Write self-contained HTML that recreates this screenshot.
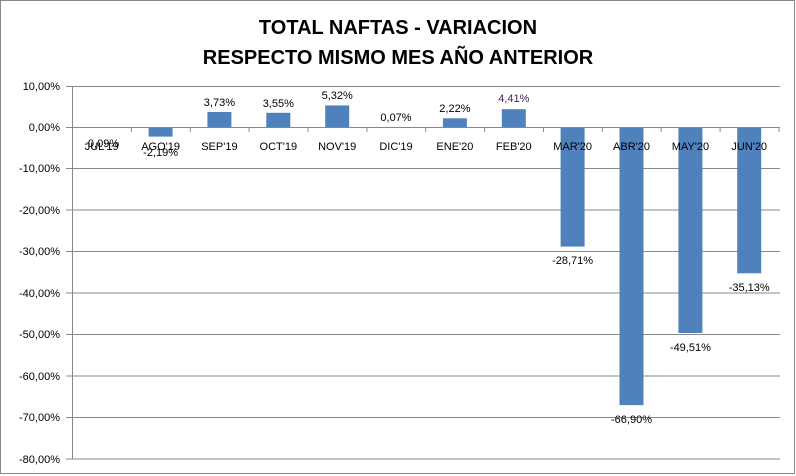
<!DOCTYPE html>
<html><head><meta charset="utf-8"><style>
html,body{margin:0;padding:0;background:#fff;}
svg{display:block;font-family:"Liberation Sans","DejaVu Sans",sans-serif;}
</style></head><body>
<svg width="796" height="476" viewBox="0 0 796 476" xmlns="http://www.w3.org/2000/svg">
<rect x="0.5" y="0.5" width="794" height="473" fill="#fff" stroke="#888"/>
<text x="398" y="34" text-anchor="middle" font-size="20" font-weight="bold">TOTAL NAFTAS - VARIACION</text>
<text x="398" y="64" text-anchor="middle" font-size="20" font-weight="bold">RESPECTO MISMO  MES AÑO ANTERIOR</text>
<g stroke="#888" stroke-width="1">
<line x1="66" y1="86.5" x2="780" y2="86.5"/>
<line x1="66" y1="168.5" x2="780" y2="168.5"/>
<line x1="66" y1="210" x2="780" y2="210"/>
<line x1="66" y1="251.5" x2="780" y2="251.5"/>
<line x1="66" y1="293" x2="780" y2="293"/>
<line x1="66" y1="334.5" x2="780" y2="334.5"/>
<line x1="66" y1="376" x2="780" y2="376"/>
<line x1="66" y1="417.5" x2="780" y2="417.5"/>
<line x1="66" y1="459" x2="780" y2="459"/>
<line x1="72.5" y1="86" x2="72.5" y2="459"/>
</g>
<g fill="#4F81BD">
<rect x="89.7" y="127.5" width="24" height="0.4"/>
<rect x="148.6" y="127.5" width="24" height="9.1"/>
<rect x="207.4" y="112" width="24" height="15.5"/>
<rect x="266.3" y="112.8" width="24" height="14.7"/>
<rect x="325.2" y="105.4" width="24" height="22.1"/>
<rect x="384.0" y="127.2" width="24" height="0.3"/>
<rect x="442.9" y="118.3" width="24" height="9.2"/>
<rect x="501.8" y="109.2" width="24" height="18.3"/>
<rect x="560.6" y="127.5" width="24" height="119.1"/>
<rect x="619.5" y="127.5" width="24" height="277.6"/>
<rect x="678.4" y="127.5" width="24" height="205.5"/>
<rect x="737.2" y="127.5" width="24" height="145.8"/>
</g>
<g stroke="#888"><line x1="66" y1="127.5" x2="780" y2="127.5"/>
<path d="M72.5 127v5M131.4 127v5M190.3 127v5M249.1 127v5M308 127v5M366.9 127v5M425.7 127v5M484.6 127v5M543.5 127v5M602.3 127v5M661.2 127v5M720.1 127v5M779 127v5"/></g>
<g font-size="11" text-anchor="end">
<text x="60" y="90">10,00%</text><text x="60" y="131">0,00%</text><text x="60" y="172">-10,00%</text>
<text x="60" y="214">-20,00%</text><text x="60" y="255">-30,00%</text><text x="60" y="297">-40,00%</text>
<text x="60" y="338">-50,00%</text><text x="60" y="380">-60,00%</text><text x="60" y="421">-70,00%</text><text x="60" y="463">-80,00%</text>
</g>
<g font-size="11" text-anchor="middle">
<text x="101.7" y="150">JUL'19</text><text x="160.6" y="150">AGO'19</text><text x="219.4" y="150">SEP'19</text>
<text x="278.3" y="150">OCT'19</text><text x="337.2" y="150">NOV'19</text><text x="396" y="150">DIC'19</text>
<text x="454.9" y="150">ENE'20</text><text x="513.8" y="150">FEB'20</text><text x="572.6" y="150">MAR'20</text>
<text x="631.5" y="150">ABR'20</text><text x="690.4" y="150">MAY'20</text><text x="749.2" y="150">JUN'20</text>
<text x="101.7" y="147">-0,09%</text>
<text x="160.6" y="156">-2,19%</text>
<text x="219.4" y="106">3,73%</text>
<text x="278.3" y="107">3,55%</text>
<text x="337.2" y="99">5,32%</text>
<text x="396" y="121">0,07%</text>
<text x="454.9" y="112">2,22%</text>
<text x="513.8" y="102" fill="#4a1a5a">4,41%</text>
<text x="572.6" y="264">-28,71%</text>
<text x="631.5" y="423">-66,90%</text>
<text x="690.4" y="351">-49,51%</text>
<text x="749.2" y="291">-35,13%</text>
</g>
</svg>
</body></html>
